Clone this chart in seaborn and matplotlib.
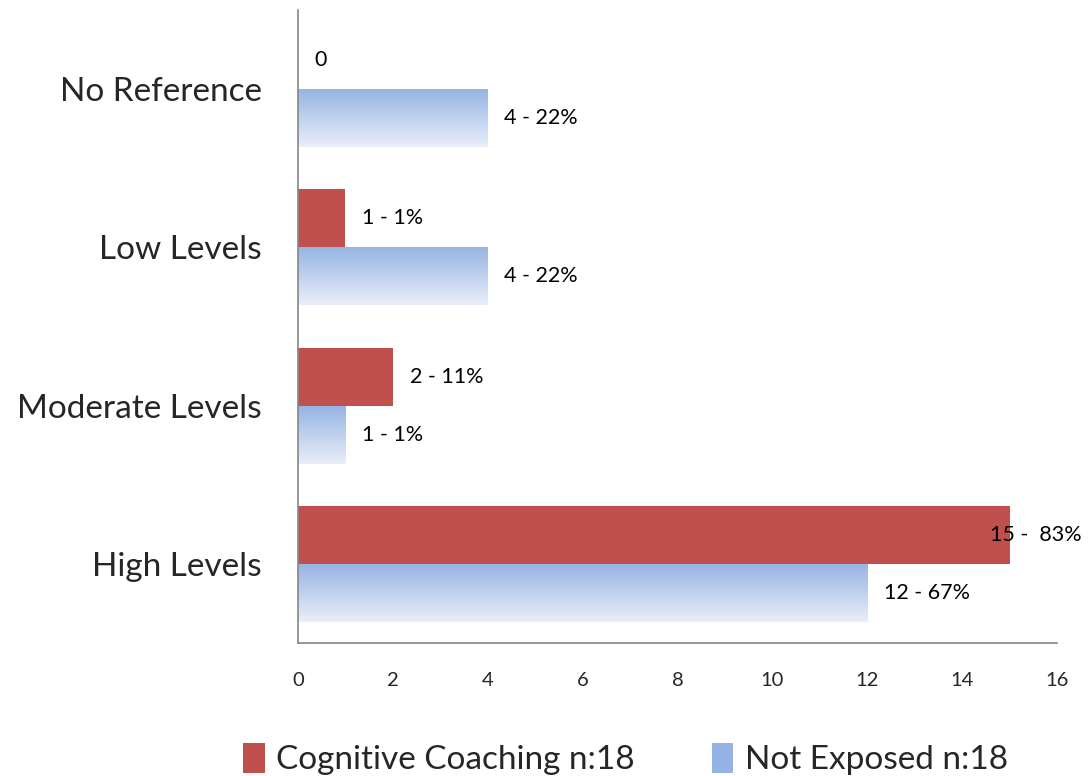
import numpy as np
import pandas as pd
import seaborn as sns
from matplotlib import pyplot as plt
from matplotlib.colors import LinearSegmentedColormap
from matplotlib.patches import Patch

# chart values
categories = ['No Reference', 'Low Levels', 'Moderate Levels', 'High Levels']
coaching = [0, 1, 2, 15]
not_exposed = [4, 4, 1, 12]
coaching_labels = ['0', '1 - 1%', '2 - 11%', '15 -  83%']
not_exposed_labels = ['4 - 22%', '4 - 22%', '1 - 1%', '12 - 67%']
series = ['Cognitive Coaching n:18', 'Not Exposed n:18']
xticks = [0, 2, 4, 6, 8, 10, 12, 14, 16]

red = '#c0504d'
blue_top = '#95b3e3'
blue_bottom = '#e9eef9'

data = pd.DataFrame({
    'category': categories * 2,
    'value': coaching + not_exposed,
    'series': [series[0]] * 4 + [series[1]] * 4,
    'label': coaching_labels + not_exposed_labels,
})

sns.set_style('white')
plt.rcParams['font.family'] = ['Lato', 'DejaVu Sans']

fig = plt.figure(figsize=(10.88, 7.76), dpi=100)
ax = fig.add_axes([0.2739, 0.1714, 0.6976, 0.8157])

sns.barplot(data=data, x='value', y='category', hue='series', orient='h',
            palette=[red, blue_top], width=0.734, ax=ax, legend=False,
            saturation=1, edgecolor='none', linewidth=0)

# gradient fill for the blue bars
cmap = LinearSegmentedColormap.from_list('grad', [blue_top, blue_bottom])
grad = np.linspace(0, 1, 256).reshape(-1, 1)
bars = ax.patches
red_bars = bars[:4]
blue_bars = bars[4:8]
for p in blue_bars:
    x0, y0, w, h = p.get_x(), p.get_y(), p.get_width(), p.get_height()
    p.set_facecolor('none')
    im = ax.imshow(grad, cmap=cmap, aspect='auto', origin='upper',
                   extent=[x0, x0 + w, y0 + h, y0], zorder=p.get_zorder())
    im.set_clip_path(p)

# data labels (the long bar's label is pulled back so it fits)
for p, txt in zip(list(red_bars) + list(blue_bars), coaching_labels + not_exposed_labels):
    w = p.get_width()
    if w < 14:
        off, ha = 12, 'left'
    else:
        off, ha = 52, 'right'
    ax.annotate(txt, (w, p.get_y() + p.get_height() / 2), xytext=(off, 0),
                textcoords='offset points', ha=ha, va='center',
                fontsize=15.5, color='black')

ax.set_xlim(0, 16)
ax.set_ylim(3.5, -0.5)
ax.set_xticks(xticks)
ax.set_xlabel('')
ax.set_ylabel('')
ax.tick_params(axis='x', labelsize=14.5, length=0, pad=21)
ax.tick_params(axis='y', labelsize=24, length=0, pad=26)
for s in ['top', 'right']:
    ax.spines[s].set_visible(False)
for s in ['left', 'bottom']:
    ax.spines[s].set_color('#868686')
    ax.spines[s].set_linewidth(1.2)

handles = [Patch(facecolor=red, edgecolor='none'),
           Patch(facecolor=blue_top, edgecolor='none')]
fig.legend(handles, series, loc='lower center', bbox_to_anchor=(0.575, -0.038),
           ncol=2, frameon=False, fontsize=24, handlelength=0.65,
           handleheight=1.0, handletextpad=0.35, columnspacing=2.3)

fig.savefig('out.png', dpi=100)
